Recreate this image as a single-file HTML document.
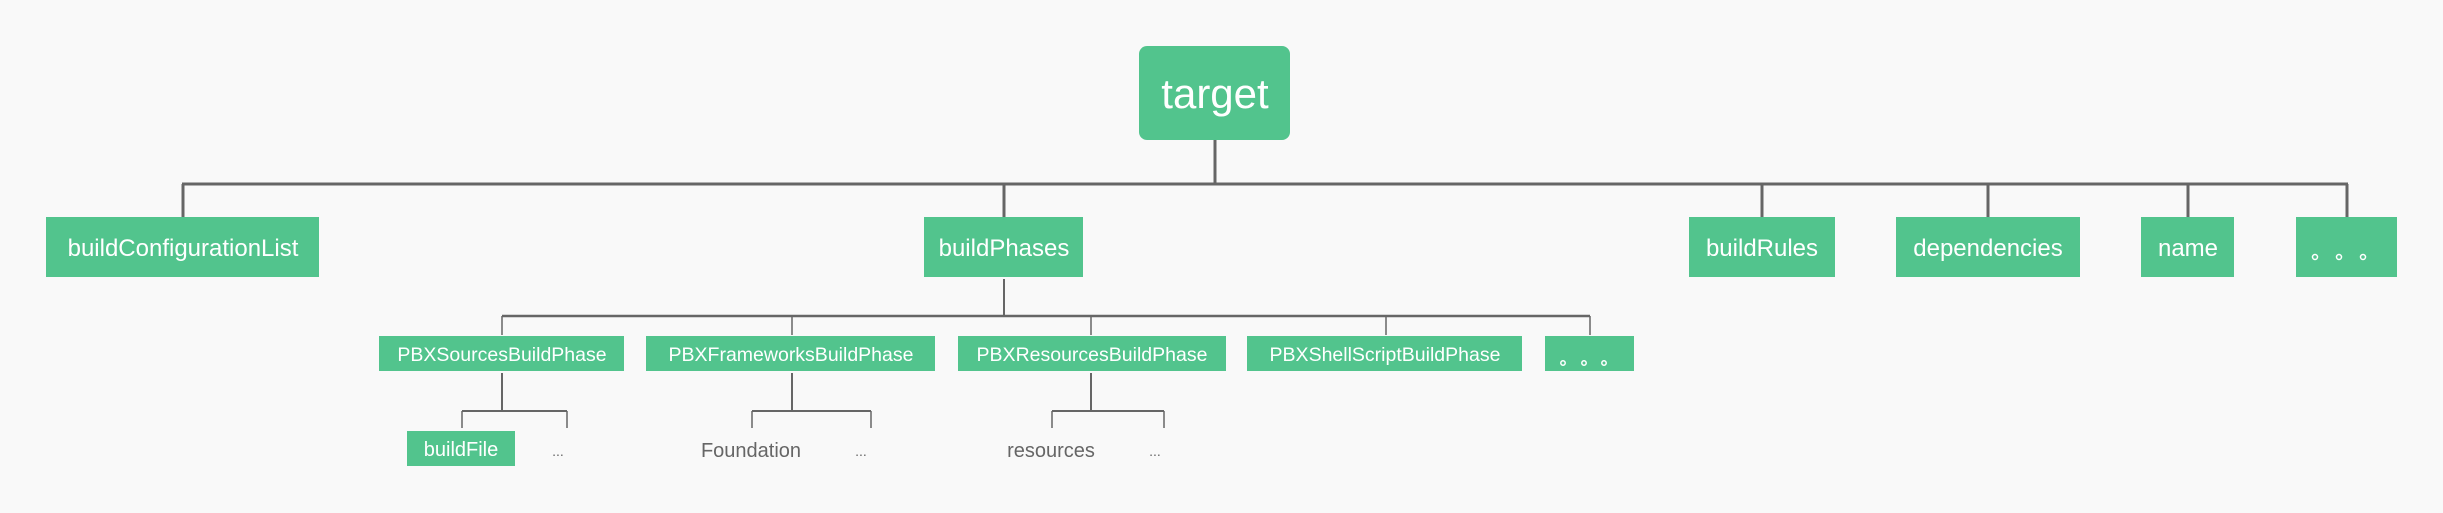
<!DOCTYPE html>
<html><head><meta charset="utf-8"><style>
html,body{margin:0;padding:0;background:#f9f9f9;}
svg{display:block}
text{font-family:"Liberation Sans",sans-serif;}
</style></head><body>
<svg width="2443" height="513" viewBox="0 0 2443 513" xmlns="http://www.w3.org/2000/svg">
<rect width="2443" height="513" fill="#f9f9f9"/>
<g stroke="#666" fill="none">
 <line x1="1215" y1="140" x2="1215" y2="184" stroke-width="3"/>
 <line x1="182" y1="184" x2="2348" y2="184" stroke-width="3"/>
 <g stroke-width="3">
 <line x1="183" y1="184" x2="183" y2="218"/>
 <line x1="1004" y1="184" x2="1004" y2="218"/>
 <line x1="1762" y1="184" x2="1762" y2="218"/>
 <line x1="1988" y1="184" x2="1988" y2="218"/>
 <line x1="2188" y1="184" x2="2188" y2="218"/>
 <line x1="2347" y1="184" x2="2347" y2="218"/>
 </g>
 <line x1="1004" y1="279" x2="1004" y2="316" stroke-width="2"/>
 <line x1="502" y1="316" x2="1590" y2="316" stroke-width="2.5"/>
 <g stroke-width="1.5">
 <line x1="502" y1="316" x2="502" y2="335"/>
 <line x1="792" y1="316" x2="792" y2="335"/>
 <line x1="1091" y1="316" x2="1091" y2="335"/>
 <line x1="1386" y1="316" x2="1386" y2="335"/>
 <line x1="1590" y1="316" x2="1590" y2="335"/>
 </g>
 <g stroke-width="2">
 <line x1="502" y1="373" x2="502" y2="411"/>
 <line x1="462" y1="411" x2="567" y2="411"/>
 <line x1="792" y1="373" x2="792" y2="411"/>
 <line x1="752" y1="411" x2="871" y2="411"/>
 <line x1="1091" y1="373" x2="1091" y2="411"/>
 <line x1="1052" y1="411" x2="1164" y2="411"/>
 </g>
 <g stroke-width="1.5">
 <line x1="462" y1="411" x2="462" y2="428"/><line x1="567" y1="411" x2="567" y2="428"/>
 <line x1="752" y1="411" x2="752" y2="428"/><line x1="871" y1="411" x2="871" y2="428"/>
 <line x1="1052" y1="411" x2="1052" y2="428"/><line x1="1164" y1="411" x2="1164" y2="428"/>
 </g>
</g>
<g fill="#52c48d">
 <rect x="1139" y="46" width="151" height="94" rx="8"/>
 <rect x="46" y="217" width="273" height="60"/>
 <rect x="924" y="217" width="159" height="60"/>
 <rect x="1689" y="217" width="146" height="60"/>
 <rect x="1896" y="217" width="184" height="60"/>
 <rect x="2141" y="217" width="93" height="60"/>
 <rect x="2296" y="217" width="101" height="60"/>
 <rect x="379" y="336" width="245" height="35"/>
 <rect x="646" y="336" width="289" height="35"/>
 <rect x="958" y="336" width="268" height="35"/>
 <rect x="1247" y="336" width="275" height="35"/>
 <rect x="1545" y="336" width="89" height="35"/>
 <rect x="407" y="431" width="108" height="35"/>
</g>
<g fill="#fff" text-anchor="middle">
 <text x="1215" y="108" font-size="42">target</text>
 <text x="183" y="256" font-size="24">buildConfigurationList</text>
 <text x="1004" y="256" font-size="24">buildPhases</text>
 <text x="1762" y="256" font-size="24">buildRules</text>
 <text x="1988" y="256" font-size="24">dependencies</text>
 <text x="2188" y="256" font-size="24">name</text>
 <text x="502" y="361" font-size="19.5">PBXSourcesBuildPhase</text>
 <text x="791" y="361" font-size="19.5">PBXFrameworksBuildPhase</text>
 <text x="1092" y="361" font-size="19.5">PBXResourcesBuildPhase</text>
 <text x="1385" y="361" font-size="19.5">PBXShellScriptBuildPhase</text>
 <text x="461" y="456" font-size="20">buildFile</text>
</g>
<g fill="none" stroke="#fff" stroke-width="1.5">
 <circle cx="2315" cy="257" r="2.5"/><circle cx="2339" cy="257" r="2.5"/><circle cx="2363" cy="257" r="2.5"/>
 <circle cx="1563" cy="363" r="2.2"/><circle cx="1584" cy="363" r="2.2"/><circle cx="1604" cy="363" r="2.2"/>
</g>
<g fill="#666" text-anchor="middle" font-size="20">
 <text x="558" y="456" font-size="14">...</text>
 <text x="751" y="457">Foundation</text>
 <text x="861" y="456" font-size="14">...</text>
 <text x="1051" y="457">resources</text>
 <text x="1155" y="456" font-size="14">...</text>
</g>
</svg>
</body></html>
